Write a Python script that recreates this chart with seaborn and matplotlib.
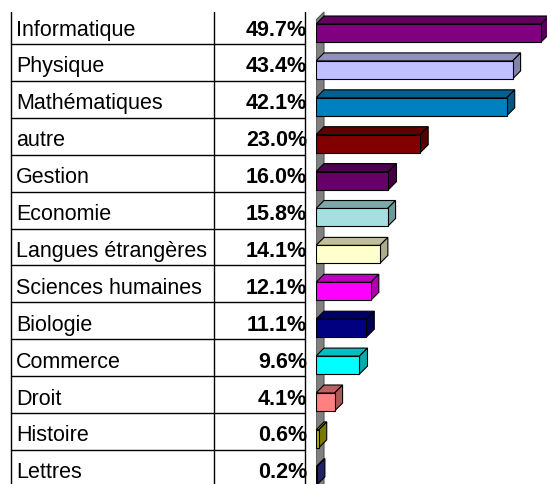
import numpy as np
import matplotlib
matplotlib.use('Agg')
import matplotlib.pyplot as plt
import matplotlib.colors as mcolors
from matplotlib.patches import Polygon
import seaborn as sns

# Données (pourcentages par discipline)
categories = ['Informatique', 'Physique', 'Mathématiques', 'autre', 'Gestion',
              'Economie', 'Langues étrangères', 'Sciences humaines', 'Biologie',
              'Commerce', 'Droit', 'Histoire', 'Lettres']
values = [49.7, 43.4, 42.1, 23.0, 16.0, 15.8, 14.1, 12.1, 11.1, 9.6, 4.1, 0.6, 0.2]
labels = ['49.7%', '43.4%', '42.1%', '23.0%', '16.0%', '15.8%', '14.1%',
          '12.1%', '11.1%', '9.6%', '4.1%', '0.6%', '0.2%']
bar_colors = ['#800080', '#C0C0FF', '#0080C0', '#800000', '#660066', '#A6DFE0',
              '#FFFFCC', '#FF00FF', '#000080', '#00FFFF', '#FF8080', '#B4B400',
              '#333399']

sns.set_theme(style='white')
plt.rcParams['font.family'] = ['Liberation Sans', 'DejaVu Sans']

W, H = 547, 484
fig = plt.figure(figsize=(W / 100, H / 100), dpi=100)

row_px = 36.9      # hauteur d'une ligne
first_px = 33      # centre de la première barre
y_top = -first_px / row_px
y_bot = (H - first_px) / row_px
wall_x = 316
px_per_pct = 4.53

# --- barres ---
ax = fig.add_axes([wall_x / W, 0, (W - wall_x) / W, 1])
sns.barplot(x=values, y=categories, hue=categories, palette=bar_colors,
            saturation=1, orient='h', width=18 / row_px, edgecolor='black',
            linewidth=0.8, legend=False, ax=ax)
ax.set_xlim(0, (W - wall_x) / px_per_pct)
ax.set_ylim(y_bot, y_top)
ax.axis('off')

depth = 8
dx = depth / px_per_pct
dy = depth / row_px

# mur gris
wall = Polygon([(0, y_bot + 1), (0, (20 - first_px) / row_px),
                (dx, (12 - first_px) / row_px), (dx, y_bot + 1)],
               closed=True, facecolor='#808080', edgecolor='#555555',
               linewidth=0.8, zorder=0)
ax.add_patch(wall)

for p, c in zip(ax.patches[:len(values)], bar_colors):
    x0 = p.get_x()
    x1 = x0 + p.get_width()
    yt = p.get_y()
    yb = yt + p.get_height()
    dark = np.array(mcolors.to_rgb(c)) * 0.75
    top = Polygon([(x0, yt), (x1, yt), (x1 + dx, yt - dy), (x0 + dx, yt - dy)],
                  closed=True, facecolor=dark, edgecolor='black', linewidth=0.8,
                  zorder=3)
    side = Polygon([(x1, yt), (x1 + dx, yt - dy), (x1 + dx, yb - dy), (x1, yb)],
                   closed=True, facecolor=dark * 0.9, edgecolor='black',
                   linewidth=0.8, zorder=3)
    ax.add_patch(top)
    ax.add_patch(side)
    p.set_zorder(4)

# --- tableau ---
axt = fig.add_axes([0, 0, wall_x / W, 1])
axt.set_xlim(0, wall_x)
axt.set_ylim(y_bot, y_top)
axt.axis('off')

table_top = (12 - first_px) / row_px
for xv in [11, 214, 305]:
    axt.plot([xv, xv], [table_top, y_bot + 1], color='black', lw=1.0)
for i in range(len(categories)):
    axt.plot([11, 305], [i + 0.30, i + 0.30], color='black', lw=1.0)
    axt.text(16, i + 0.07, categories[i], ha='left', va='baseline',
             fontsize=15.5, color='black')
    axt.text(307, i + 0.07, labels[i], ha='right', va='baseline',
             fontsize=15.5, fontweight='bold', color='black')

fig.savefig('out.png', dpi=100)
